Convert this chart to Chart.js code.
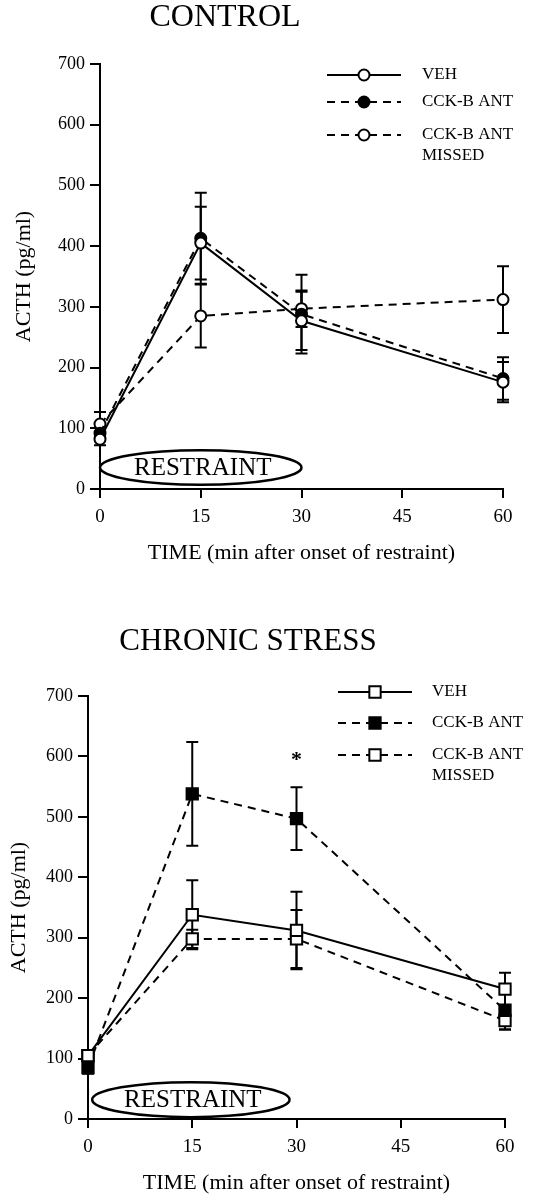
<!DOCTYPE html>
<html>
<head>
<meta charset="utf-8">
<script src="https://cdn.jsdelivr.net/npm/chart.js@4.4.1/dist/chart.umd.min.js"></script>
<style>
  html, body { margin: 0; padding: 0; background: #fff; }
  #wrap { position: relative; width: 548px; height: 1199px; }
  canvas { position: absolute; left: 0; }
</style>
</head>
<body>
<div id="wrap">
  <canvas id="control" width="548" height="600" style="top:0"></canvas>
  <canvas id="chronic" width="548" height="599" style="top:600px"></canvas>
</div>
<script>
// time points (min after onset of restraint)
var timePoints = [0, 15, 30, 60];
var xTickValues = [0, 15, 30, 45, 60];
var yTickValues = [0, 100, 200, 300, 400, 500, 600, 700];
var seriesLabels = ['VEH', 'CCK-B ANT', 'CCK-B ANT\nMISSED'];

// CONTROL panel, ACTH pg/ml, mean and SEM
var controlVeh = [82, 405, 277, 176];
var controlVehSem = [10, 60, 48, 33];
var controlAnt = [92, 413, 288, 182];
var controlAntSem = [12, 75, 65, 35];
var controlMissed = [107, 285, 297, 312];
var controlMissedSem = [20, 52, 30, 55];

// CHRONIC STRESS panel
var chronicVeh = [105, 338, 312, 215];
var chronicVehSem = [8, 57, 64, 27];
var chronicAnt = [85, 538, 497, 180];
var chronicAntSem = [10, 86, 52, 32];
var chronicMissed = [105, 298, 298, 163];
var chronicMissedSem = [8, 15, 48, 15];
var chronicSig = [false, false, true, false];

// restraint period shown as an oval on the x axis
var restraintSpan = [0, 30];

var FONT = '"Liberation Serif", "Times New Roman", serif';

function pts(vals) {
  return timePoints.map(function (t, i) { return { x: t, y: vals[i] }; });
}

function drawMarker(ctx, style, x, y, r, filled) {
  ctx.beginPath();
  if (style === 'rect') {
    var s = r * Math.SQRT1_2;
    ctx.rect(x - s, y - s, 2 * s, 2 * s);
  } else {
    ctx.arc(x, y, r, 0, Math.PI * 2);
  }
  ctx.fillStyle = filled ? '#000' : '#fff';
  ctx.fill();
  ctx.lineWidth = 2;
  ctx.strokeStyle = '#000';
  ctx.stroke();
}

var decor = {
  id: 'decor',
  beforeDatasetsDraw: function (chart, args, o) {
    var ctx = chart.ctx, x = chart.scales.x, y = chart.scales.y;
    ctx.save();
    // restraint oval
    var x0 = x.getPixelForValue(o.restraint[0]), x1 = x.getPixelForValue(o.restraint[1]);
    var yT = y.getPixelForValue(o.restraintY[1]), yB = y.getPixelForValue(o.restraintY[0]);
    ctx.beginPath();
    ctx.ellipse((x0 + x1) / 2, (yT + yB) / 2, (x1 - x0) / 2, (yB - yT) / 2, 0, 0, Math.PI * 2);
    ctx.fillStyle = '#fff';
    ctx.fill();
    ctx.lineWidth = 2.5;
    ctx.strokeStyle = '#000';
    ctx.stroke();
    ctx.fillStyle = '#000';
    ctx.font = '25px ' + FONT;
    ctx.textAlign = 'center';
    ctx.textBaseline = 'middle';
    ctx.fillText('RESTRAINT', (x0 + x1) / 2 + 2, (yT + yB) / 2 + 1);

    // error bars
    ctx.lineWidth = 2;
    chart.data.datasets.forEach(function (ds, i) {
      ds.sem.forEach(function (e, j) {
        var p = ds.data[j];
        var px = x.getPixelForValue(p.x);
        var hi = y.getPixelForValue(p.y + e), lo = y.getPixelForValue(p.y - e);
        ctx.beginPath();
        ctx.moveTo(px, hi); ctx.lineTo(px, lo);
        ctx.moveTo(px - 6, hi); ctx.lineTo(px + 6, hi);
        ctx.moveTo(px - 6, lo); ctx.lineTo(px + 6, lo);
        ctx.stroke();
        if (ds.sig && ds.sig[j]) {
          ctx.font = 'bold 22px ' + FONT;
          ctx.fillText('*', px, hi - 27);
        }
      });
    });
    ctx.restore();
  },
  afterDraw: function (chart, args, o) {
    var ctx = chart.ctx;
    ctx.save();
    ctx.fillStyle = '#000';
    ctx.textBaseline = 'middle';
    ctx.textAlign = 'center';
    ctx.font = o.titleSize + 'px ' + FONT;
    ctx.fillText(o.title, o.titleX, o.titleY);

    // legend: line sample with marker in the middle
    var L = o.legend;
    ctx.textAlign = 'left';
    ctx.font = '17px ' + FONT;
    chart.data.datasets.forEach(function (ds, i) {
      var ly = L.rows[i];
      ctx.setLineDash(ds.borderDash || []);
      ctx.lineWidth = 2;
      ctx.strokeStyle = '#000';
      ctx.beginPath();
      ctx.moveTo(L.x1, ly); ctx.lineTo(L.x2, ly);
      ctx.stroke();
      ctx.setLineDash([]);
      drawMarker(ctx, ds.pointStyle, (L.x1 + L.x2) / 2, ly, ds.pointRadius, ds.pointBackgroundColor === '#000');
      ctx.fillStyle = '#000';
      ds.label.split('\n').forEach(function (t, k) {
        ctx.fillText(t, L.tx, ly + k * 21);
      });
    });
    ctx.restore();
  }
};

function makeSet(label, vals, sem, dashed, filled, style, r) {
  return {
    label: label,
    data: pts(vals),
    sem: sem,
    borderColor: '#000',
    borderWidth: 2,
    borderDash: dashed ? [8, 6] : [],
    pointStyle: style,
    pointRadius: r,
    pointHoverRadius: r,
    pointBorderWidth: 2,
    pointBorderColor: '#000',
    pointBackgroundColor: filled ? '#000' : '#fff',
    tension: 0,
    clip: false
  };
}

function makeChart(id, sets, g) {
  return new Chart(document.getElementById(id), {
    type: 'line',
    data: { datasets: sets },
    plugins: [decor],
    options: {
      responsive: false,
      animation: false,
      devicePixelRatio: 1,
      layout: { padding: { top: g.top, right: g.right, left: 0, bottom: 0 } },
      plugins: {
        legend: { display: false },
        tooltip: { enabled: false },
        decor: g.decor
      },
      scales: {
        x: {
          type: 'linear',
          min: 0, max: 60,
          afterBuildTicks: function (s) { s.ticks = xTickValues.map(function (v) { return { value: v }; }); },
          afterFit: function (s) { s.height = g.xHeight; },
          border: { display: true, color: '#000', width: 2 },
          grid: { drawOnChartArea: false, drawTicks: true, tickLength: 9, color: '#000', lineWidth: 2 },
          ticks: { color: '#000', padding: 8, font: { family: FONT, size: 19 }, maxRotation: 0 },
          title: {
            display: true, text: 'TIME (min after onset of restraint)', color: '#000',
            font: { family: FONT, size: 22 }, padding: { top: 0, bottom: g.xTitlePad }
          }
        },
        y: {
          min: 0, max: 700,
          afterBuildTicks: function (s) { s.ticks = yTickValues.map(function (v) { return { value: v }; }); },
          afterFit: function (s) { s.width = g.yWidth; },
          border: { display: true, color: '#000', width: 2 },
          grid: { drawOnChartArea: false, drawTicks: true, tickLength: 10, color: '#000', lineWidth: 2 },
          ticks: { color: '#000', padding: 5, font: { family: FONT, size: 18 } },
          title: {
            display: true, text: 'ACTH (pg/ml)', color: '#000',
            font: { family: FONT, size: 22 }, padding: { top: g.yTitlePad, bottom: 0 }
          }
        }
      }
    }
  });
}

var controlSets = [
  makeSet(seriesLabels[0], controlVeh, controlVehSem, false, false, 'circle', 5.5),
  makeSet(seriesLabels[1], controlAnt, controlAntSem, true, true, 'circle', 5.5),
  makeSet(seriesLabels[2], controlMissed, controlMissedSem, true, false, 'circle', 5.5)
];

var chronicSets = [
  makeSet(seriesLabels[0], chronicVeh, chronicVehSem, false, false, 'rect', 8),
  makeSet(seriesLabels[1], chronicAnt, chronicAntSem, true, true, 'rect', 8),
  makeSet(seriesLabels[2], chronicMissed, chronicMissedSem, true, false, 'rect', 8)
];
chronicSets[1].sig = chronicSig;

makeChart('control', controlSets, {
  top: 64, right: 45, yWidth: 100, xHeight: 111, xTitlePad: 34, yTitlePad: 11,
  decor: {
    title: 'CONTROL', titleSize: 32, titleX: 225, titleY: 18,
    restraint: restraintSpan, restraintY: [7, 64],
    legend: { x1: 327, x2: 401, tx: 422, rows: [75, 102, 135] }
  }
});

makeChart('chronic', chronicSets, {
  top: 96, right: 43, yWidth: 88, xHeight: 80, xTitlePad: 3, yTitlePad: 6,
  decor: {
    title: 'CHRONIC STRESS', titleSize: 31, titleX: 248, titleY: 42,
    restraint: [0.6, 29], restraintY: [3, 61],
    legend: { x1: 338, x2: 412, tx: 432, rows: [92, 123, 155] }
  }
});
</script>
</body>
</html>
